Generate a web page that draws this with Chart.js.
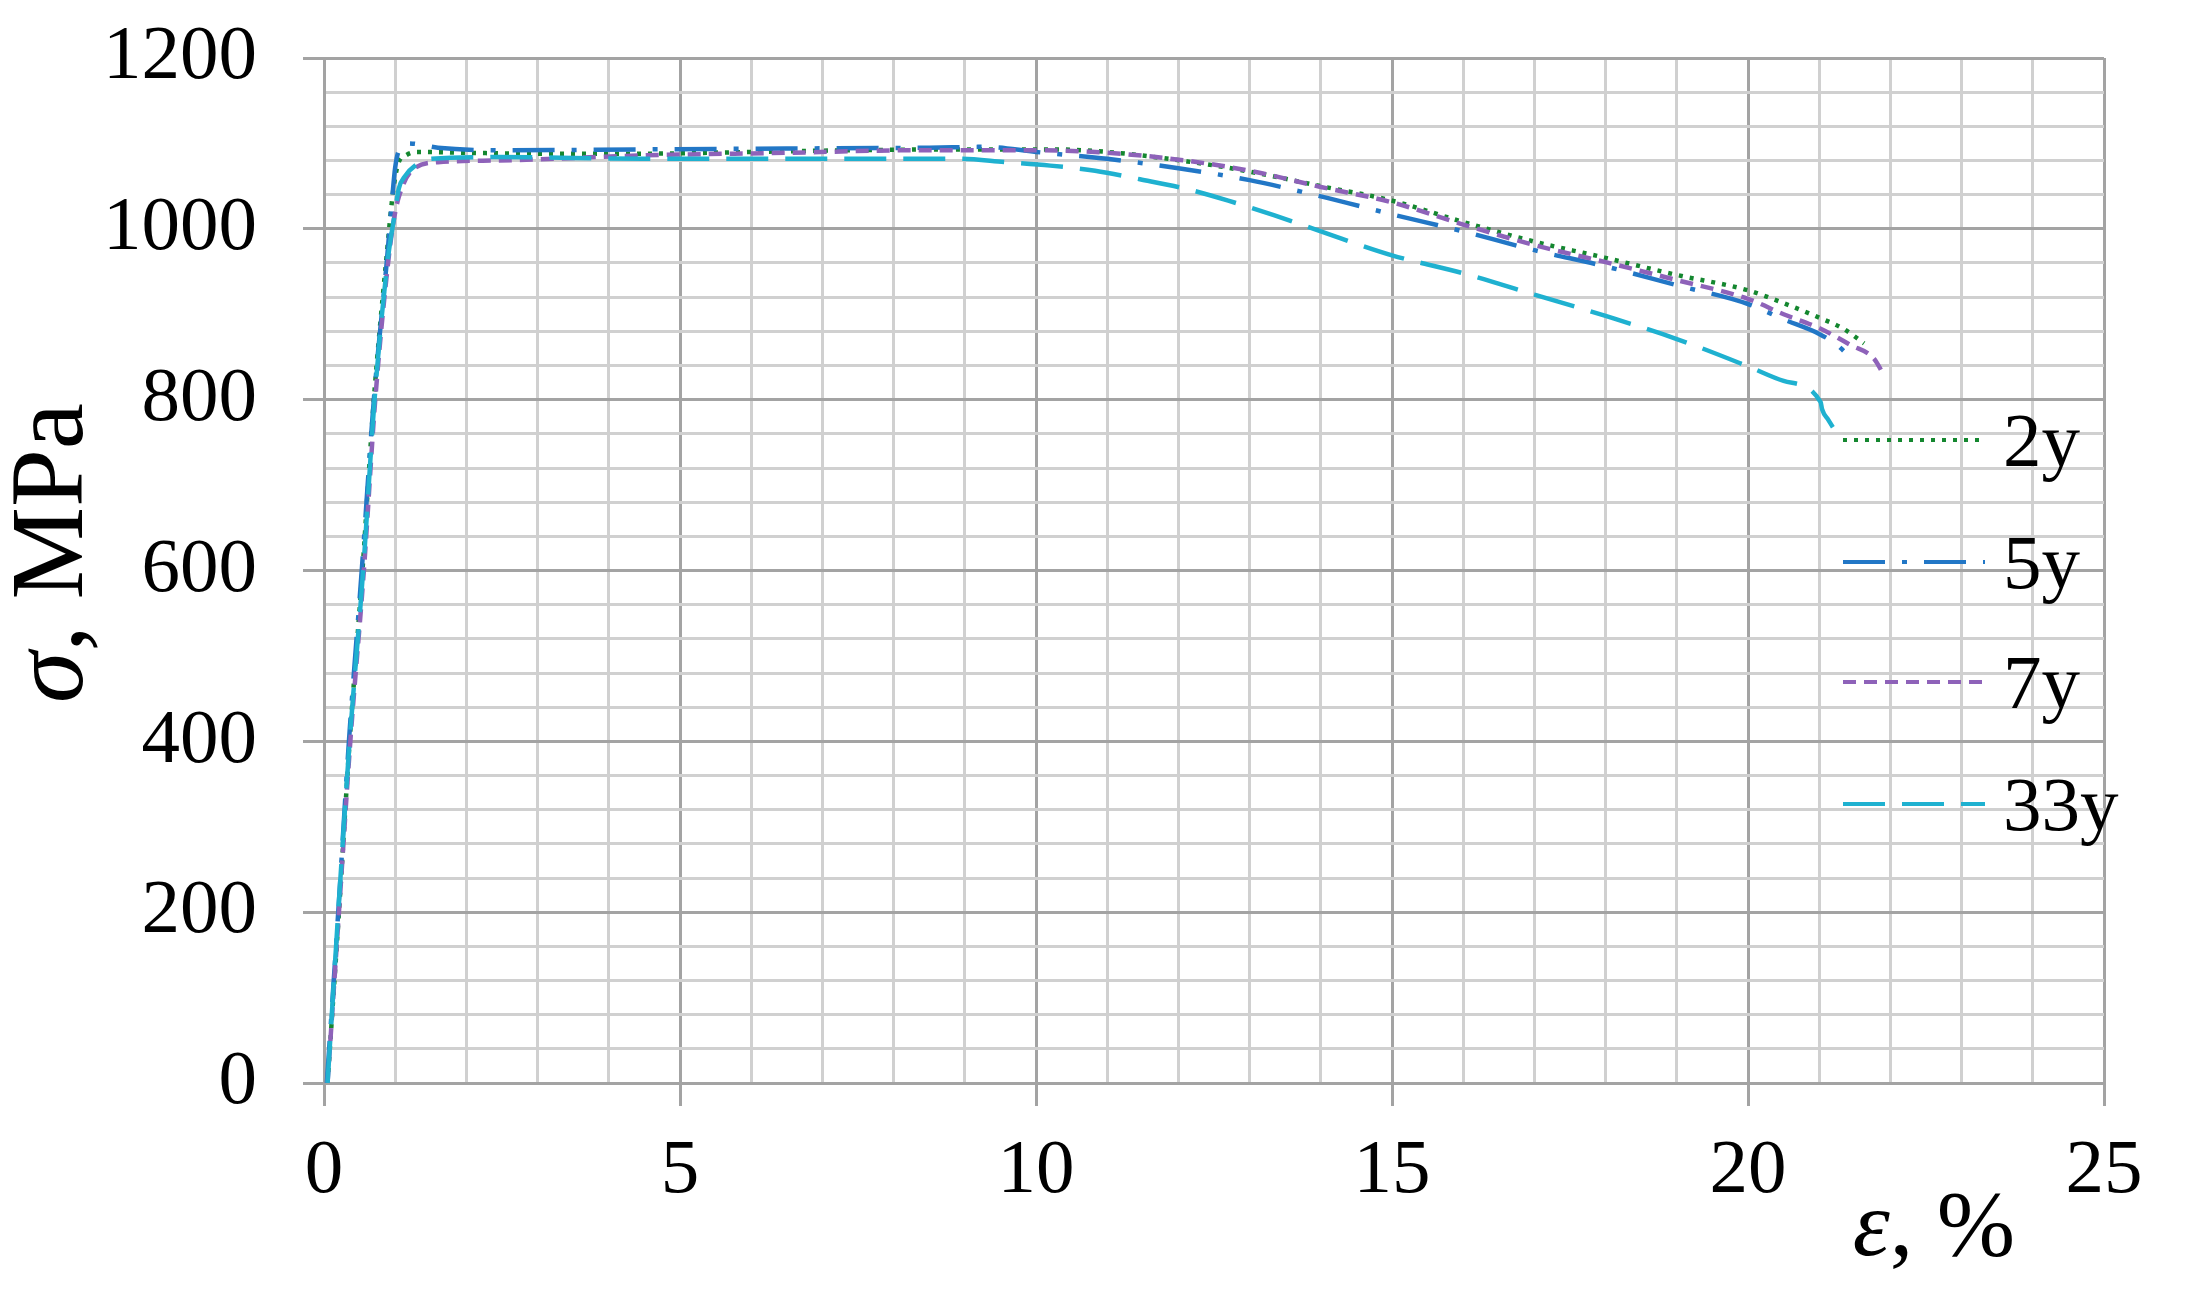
<!DOCTYPE html>
<html>
<head>
<meta charset="utf-8">
<script src="https://cdn.jsdelivr.net/npm/chart.js@4.4.1/dist/chart.umd.min.js"></script>
<style>
	html, body { margin: 0; padding: 0; background: #fff; overflow: hidden; }
	canvas { display: block; }
</style>
</head>
<body>
<canvas id="chart_stress" width="2195" height="1294"></canvas>
<script>
// series names (legend)
var series = ['2y', '5y', '7y', '33y'];

// strain, %  /  stress, MPa
var strain2y = [0.05, 0.21, 0.36, 0.54, 0.70, 0.87, 0.98, 1.05, 1.15, 1.30, 2.0, 3.0, 4.5, 6.0, 7.4, 9.0, 10.2, 11.0, 12.2, 13.0, 14.0, 15.0, 16.0, 17.0, 18.0, 19.0, 20.0, 20.5, 21.0, 21.34, 21.63];
var stress2y = [0, 200, 400, 600, 800, 960, 1050, 1078, 1086, 1090, 1089, 1088, 1088, 1090, 1092, 1093, 1093, 1090, 1078, 1067, 1050, 1033, 1008, 985, 966, 946, 928, 913, 896, 883, 866];

var strain5y = [0.04, 0.20, 0.35, 0.53, 0.70, 0.88, 0.955, 1.0, 1.07, 1.19, 1.6, 2.45, 4.5, 6.5, 8.5, 9.3, 10.0, 11.0, 12.0, 13.0, 14.0, 15.0, 16.0, 17.0, 18.0, 19.0, 20.0, 20.5, 21.0, 21.25, 21.48];
var stress5y = [0, 200, 400, 600, 800, 960, 1033, 1072, 1095, 1100, 1095, 1092, 1093, 1094, 1095, 1096, 1090, 1082, 1071, 1057, 1038, 1017, 997, 975, 956, 934, 912, 894, 877, 864, 846];

var strain7y = [0.05, 0.21, 0.37, 0.56, 0.72, 0.90, 0.98, 1.05, 1.23, 1.6, 2.45, 4.5, 6.5, 8.3, 10.0, 11.0, 12.0, 13.0, 14.0, 15.0, 16.0, 17.0, 18.0, 19.0, 20.0, 20.5, 21.02, 21.44, 21.77, 21.9];
var stress7y = [0, 200, 400, 600, 800, 960, 1010, 1037, 1068, 1078, 1080, 1086, 1089, 1092, 1092, 1089, 1081, 1068, 1049, 1031, 1005, 981, 961, 940, 918, 900, 883, 864, 848, 830];

var strain33y = [0.05, 0.20, 0.36, 0.55, 0.71, 0.89, 1.0, 1.05, 1.14, 1.28, 1.51, 2.45, 4.5, 7.0, 8.9, 9.57, 10.2, 10.83, 11.46, 12.1, 12.7, 13.34, 14.0, 15.0, 16.0, 17.0, 18.0, 19.0, 20.0, 20.5, 21.02, 21.04, 21.13, 21.3];
var stress33y = [0, 200, 400, 600, 800, 960, 1021, 1047, 1062, 1074, 1082, 1084, 1082, 1082, 1082, 1078, 1074, 1068, 1058, 1047, 1033, 1016, 997, 969, 948, 923, 898, 871, 839, 822, 797, 789, 776, 754];

// axis ticks
var xTicks = [0, 5, 10, 15, 20, 25];
var yTicks = [0, 200, 400, 600, 800, 1000, 1200];

function points(xs, ys) {
	return xs.map(function (x, i) { return { x: x, y: ys[i] }; });
}

var serif = '"Liberation Serif", "Times New Roman", serif';
var majorGrid = '#a3a3a3';
var minorGrid = '#d0d0d0';

// legend rows and axis titles, drawn over the plot
var legendY = [440, 562, 682, 804];

var overlay = {
	id: 'overlay',
	afterDraw: function (chart) {
		var ctx = chart.ctx;
		ctx.save();
		chart.data.datasets.forEach(function (ds, i) {
			var y = legendY[i];
			ctx.strokeStyle = ds.borderColor;
			ctx.lineWidth = 4;
			ctx.setLineDash(ds.borderDash);
			ctx.beginPath();
			ctx.moveTo(1843, y);
			ctx.lineTo(1985, y);
			ctx.stroke();
			ctx.setLineDash([]);
			ctx.fillStyle = '#000';
			ctx.font = '77px ' + serif;
			ctx.textAlign = 'left';
			ctx.textBaseline = 'alphabetic';
			ctx.fillText(ds.label, 2003, y + 26);
		});

		// y title: "σ, MPa"
		ctx.fillStyle = '#000';
		ctx.textBaseline = 'alphabetic';
		ctx.textAlign = 'left';
		ctx.translate(82, 553);
		ctx.rotate(-Math.PI / 2);
		ctx.font = 'italic 104px ' + serif;
		var w1 = ctx.measureText('\u03c3').width;
		ctx.font = '104px ' + serif;
		var w2 = ctx.measureText(', MPa').width;
		var sx = -(w1 + w2) / 2;
		ctx.font = 'italic 104px ' + serif;
		ctx.fillText('\u03c3', sx, 0);
		ctx.font = '104px ' + serif;
		ctx.fillText(', MPa', sx + w1, 0);
		ctx.setTransform(1, 0, 0, 1, 0, 0);

		// x title: "ε, %"
		ctx.font = '94px ' + serif;
		var w4 = ctx.measureText(', %').width;
		ctx.font = 'italic 94px ' + serif;
		var w3 = ctx.measureText('\u03b5').width;
		var ex = 2015 - w3 - w4;
		ctx.fillText('\u03b5', ex, 1255);
		ctx.font = '94px ' + serif;
		ctx.fillText(', %', ex + w3, 1255);
		ctx.restore();
	}
};

function isMajor(value, list) {
	return list.indexOf(value) !== -1;
}

var chart_stress = new Chart(
	document.getElementById('chart_stress'),
	{
		type: 'scatter',
		data: {
			datasets: [
				{
					label: series[0],
					data: points(strain2y, stress2y),
					borderColor: '#14872f',
					borderDash: [4, 7],
					order: 4,
				},
				{
					label: series[1],
					data: points(strain5y, stress5y),
					borderColor: '#2277c6',
					borderDash: [42, 17, 5, 17],
					order: 3,
				},
				{
					label: series[2],
					data: points(strain7y, stress7y),
					borderColor: '#8e62b9',
					borderDash: [13, 8],
					order: 2,
				},
				{
					label: series[3],
					data: points(strain33y, stress33y),
					borderColor: '#1fb1d0',
					borderDash: [42, 17],
					order: 1,
				}
			]
		},
		options: {
			responsive: false,
			animation: false,
			showLine: true,
			layout: { padding: { top: 58, right: 91, bottom: 0, left: 0 } },
			elements: {
				point: { radius: 0, hoverRadius: 0 },
				line: { borderWidth: 4.5, cubicInterpolationMode: 'monotone', fill: false }
			},
			plugins: {
				legend: { display: false },
				tooltip: { enabled: false }
			},
			scales: {
				x: {
					type: 'linear',
					min: 0,
					max: 25,
					afterFit: function (scale) { scale.height = 211; },
					border: { display: true, color: majorGrid, width: 3 },
					grid: {
						color: function (c) { return isMajor(c.tick.value, xTicks) ? majorGrid : minorGrid; },
						lineWidth: 3,
						tickLength: 23,
						tickWidth: 3,
						tickColor: function (c) { return isMajor(c.tick.value, xTicks) ? majorGrid : 'rgba(0,0,0,0)'; }
					},
					ticks: {
						stepSize: 1,
						autoSkip: false,
						maxRotation: 0,
						minRotation: 0,
						padding: 27,
						color: '#000',
						font: { family: serif, size: 77, lineHeight: 1 },
						callback: function (v) { return isMajor(v, xTicks) ? v : ''; }
					}
				},
				y: {
					type: 'linear',
					min: 0,
					max: 1200,
					afterFit: function (scale) {
						scale.width = 324;
						scale.paddingTop = 0;
						scale.paddingBottom = 0;
					},
					border: { display: true, color: majorGrid, width: 3 },
					grid: {
						color: function (c) { return isMajor(c.tick.value, yTicks) ? majorGrid : minorGrid; },
						lineWidth: 3,
						tickLength: 21,
						tickWidth: 3,
						tickColor: function (c) { return isMajor(c.tick.value, yTicks) ? majorGrid : 'rgba(0,0,0,0)'; }
					},
					ticks: {
						stepSize: 40,
						autoSkip: false,
						padding: 46,
						color: '#000',
						font: { family: serif, size: 77, lineHeight: 1 },
						callback: function (v) { return isMajor(v, yTicks) ? v : ''; }
					}
				}
			}
		},
		plugins: [overlay]
	}
);
</script>
</body>
</html>
